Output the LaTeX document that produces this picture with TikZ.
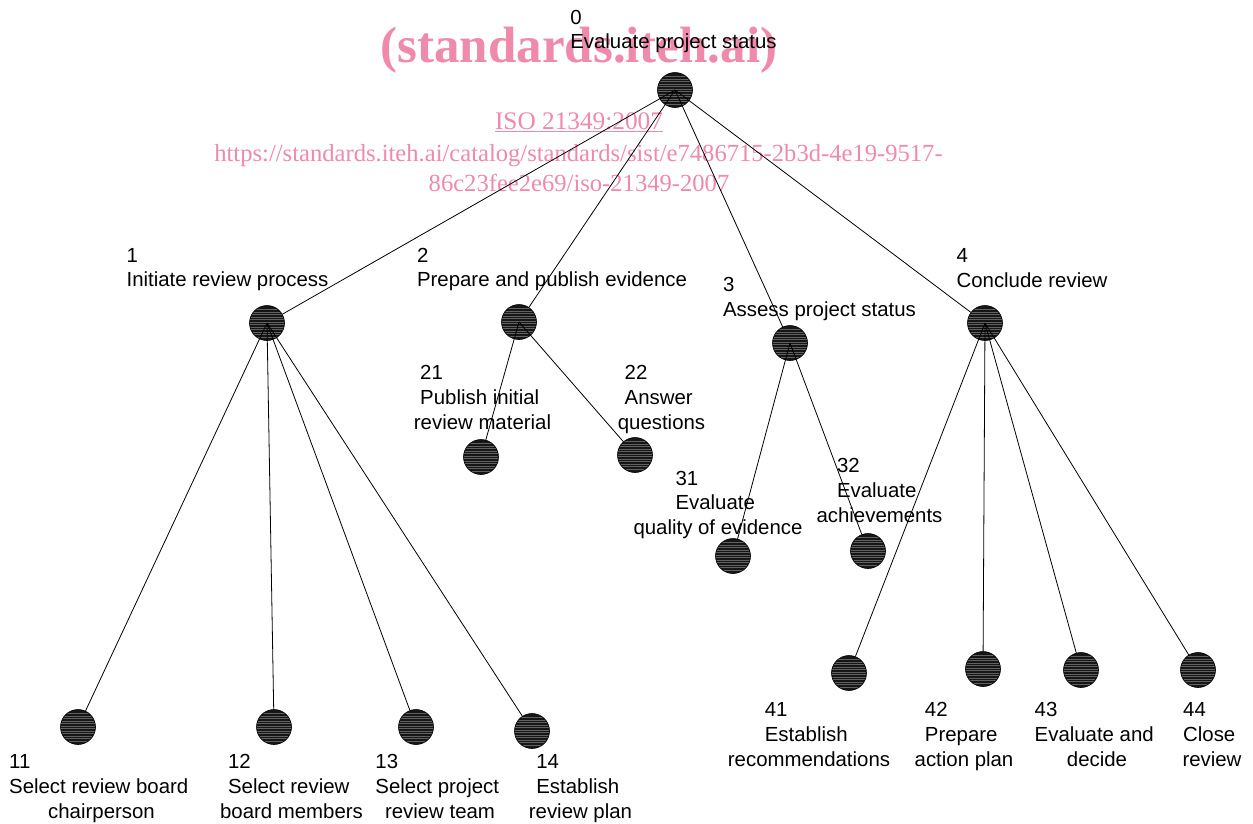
\documentclass[tikz,border=0pt]{standalone}
\usepackage{fontspec}
\setmainfont{Liberation Sans}
\newfontfamily\wmfont{Liberation Serif}
\definecolor{wmpink}{RGB}{240,138,170}
\definecolor{dotfill}{RGB}{22,22,22}
\newcommand\lblA[2]{\begin{tabular}[t]{@{}c@{}}\setbox0\hbox{#2}\makebox[\wd0][l]{#1}\\#2\end{tabular}}
\newcommand\lblB[3]{\begin{tabular}[t]{@{}c@{}}\setbox0\hbox{#2\kern5.5pt}\makebox[\wd0][l]{#1}\\#2\kern5.5pt\\#3\end{tabular}}
\tikzset{
  dot/.style={circle, draw=black, line width=0.6pt, fill=dotfill, minimum size=35pt, inner sep=0pt,
    path picture={\foreach \k in {-14,-11.5,...,15}{\draw[black!62, line width=0.4pt] ([yshift=\k pt]path picture bounding box.west) -- ([yshift=\k pt]path picture bounding box.east);}}},
  lbl/.style={anchor=base, inner sep=0pt, font=\fontsize{20.4}{24.8}\selectfont},
  link/.style={draw=black, line width=0.8pt},
  wm/.style={anchor=base, inner sep=0pt, text=wmpink}
}
\begin{document}
\begin{tikzpicture}[x=1pt,y=-1pt]
\useasboundingbox[fill=white] (0,0) rectangle (1253,823);
% watermark
\node[wm, font=\wmfont\bfseries\fontsize{51}{51}\selectfont] (wm1) at (579,62) {(standards.iteh.ai)};
\node[wm, font=\wmfont\fontsize{25.3}{30}\selectfont] (wm2) at (579,129) {\underline{ISO 21349:2007}};
\node[wm, font=\wmfont\fontsize{24.6}{30}\selectfont] (wm3) at (578.5,161.7) {https://standards.iteh.ai/catalog/standards/sist/e7486715-2b3d-4e19-9517-};
\node[wm, font=\wmfont\fontsize{24.6}{30}\selectfont] (wm4) at (579,191.7) {86c23fee2e69/iso-21349-2007};
% dots
\node[dot] (n0) at (675,90) {};
\node[dot] (n1) at (267,323) {};
\node[dot] (n2) at (519,322) {};
\node[dot] (n3) at (790,343) {};
\node[dot] (n4) at (985,323) {};
\node[dot] (n21) at (481,457) {};
\node[dot] (n22) at (635,455) {};
\node[dot] (n31) at (733,556) {};
\node[dot] (n32) at (868,551) {};
\node[dot] (n41) at (849,673) {};
\node[dot] (n42) at (983,669) {};
\node[dot] (n43) at (1081,670) {};
\node[dot] (n44) at (1198,670) {};
\node[dot] (n11) at (78,727) {};
\node[dot] (n12) at (274,727) {};
\node[dot] (n13) at (416,727) {};
\node[dot] (n14) at (532,731) {};
% links
\foreach \c in {1,2,3,4} \draw[link] (n0.center) -- (n\c);
\foreach \c in {11,12,13,14} \draw[link] (n1.center) -- (n\c);
\foreach \c in {21,22} \draw[link] (n2.center) -- (n\c);
\foreach \c in {31,32} \draw[link] (n3.center) -- (n\c);
\foreach \c in {41,42,43,44} \draw[link] (n4.center) -- (n\c);
% labels
\node[lbl] (l0) at (673.5,24) {\lblA{0}{Evaluate project status}};
\node[lbl] (l1) at (227.5,262) {\lblA{1}{Initiate review process}};
\node[lbl] (l2) at (552,262) {\lblA{2}{Prepare and publish evidence}};
\node[lbl] (l3) at (819.5,291.5) {\lblA{3}{Assess project status}};
\node[lbl] (l4) at (1032,262.5) {\lblA{4}{Conclude review}};
\node[lbl] (l21) at (482.5,379.5) {\lblB{21}{Publish initial}{review material}};
\node[lbl] (l22) at (661.5,379.5) {\lblB{22}{Answer}{questions}};
\node[lbl] (l31) at (718,485) {\lblB{31}{Evaluate}{quality of evidence}};
\node[lbl] (l32) at (879.5,472.5) {\lblB{32}{Evaluate}{achievements}};
\node[lbl] (l41) at (809,716.5) {\lblB{41}{Establish}{recommendations}};
\node[lbl] (l42) at (964,716.5) {\lblB{42}{Prepare}{action plan}};
\node[lbl] (l43) at (1097,716.5) {\lblB{43}{Evaluate and}{decide}};
\node[lbl] (l44) at (1212,716.5) {\lblB{44}{Close}{review}};
\node[lbl] (l11) at (101.5,768.5) {\lblB{11}{Select review board}{chairperson}};
\node[lbl] (l12) at (291.5,768.5) {\lblB{12}{Select review}{board members}};
\node[lbl] (l13) at (440,768.5) {\lblB{13}{Select project}{review team}};
\node[lbl] (l14) at (580.5,768.5) {\lblB{14}{Establish}{review plan}};
\end{tikzpicture}
\end{document}
